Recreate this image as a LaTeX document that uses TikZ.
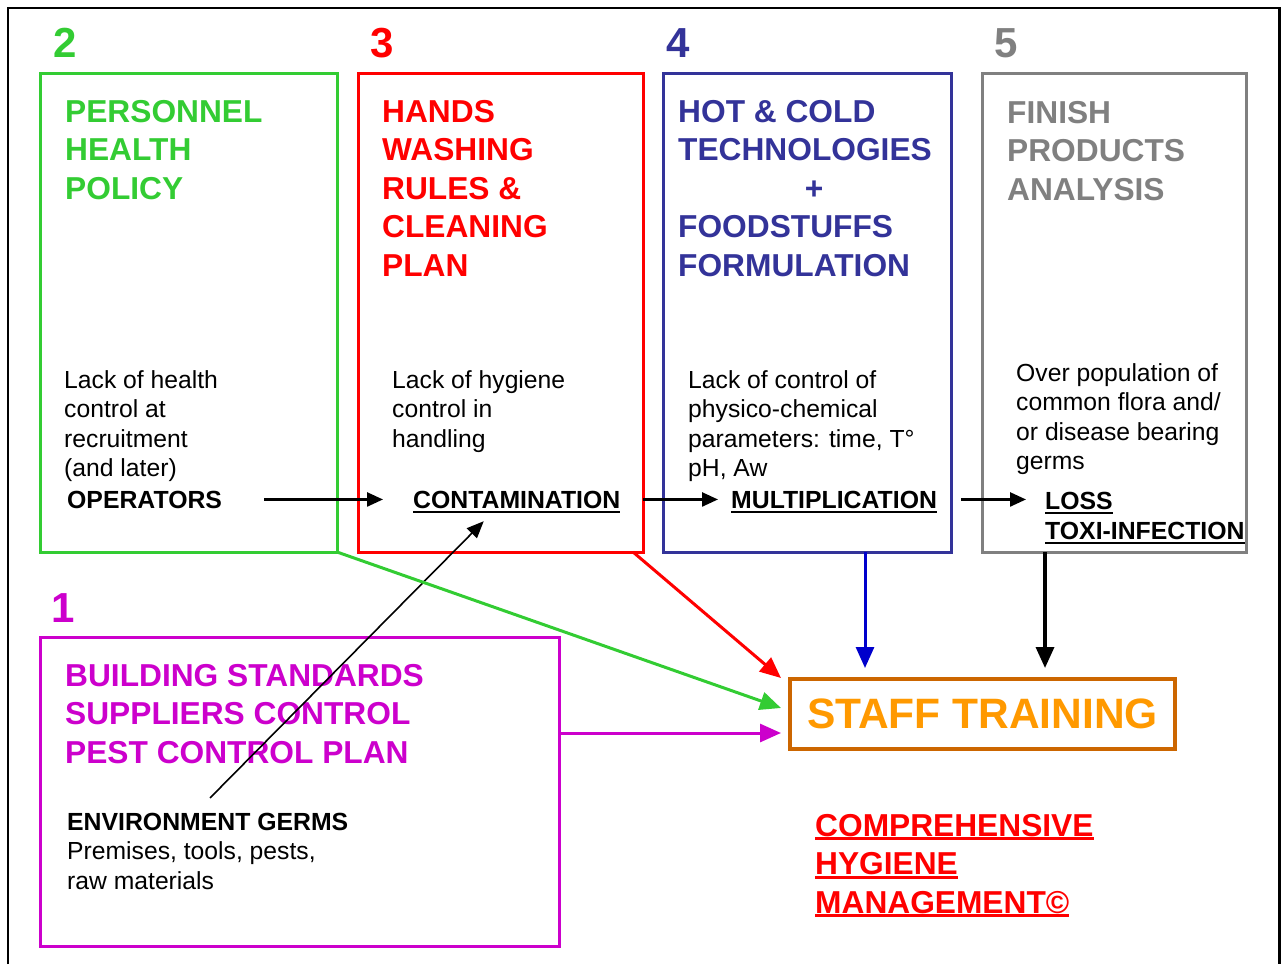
\documentclass[tikz,border=0pt]{standalone}
\usepackage{fontspec}
\setmainfont{Liberation Sans}
\usetikzlibrary{arrows.meta}

\definecolor{cgreen}{RGB}{51,204,51}
\definecolor{cred}{RGB}{255,0,0}
\definecolor{cnavy}{RGB}{51,51,153}
\definecolor{cblue}{RGB}{0,0,204}
\definecolor{cgray}{RGB}{128,128,128}
\definecolor{cmag}{RGB}{204,0,204}
\definecolor{corange}{RGB}{255,153,0}
\definecolor{cbrown}{RGB}{204,102,0}

% underline: #1 = drop below baseline, #2 = rule thickness, #3 = text
\newcommand\ulbar[3]{\setbox0\hbox{#3}\rlap{\rule[-#1pt]{\wd0}{#2pt}}\box0}

\begin{document}
\begin{tikzpicture}[x=1pt,y=-1pt,
  box/.style={draw, line width=3pt, rectangle, inner sep=0pt, outer sep=0pt, anchor=north west},
  num/.style={font=\fontsize{42}{48}\selectfont\bfseries, anchor=base west, inner sep=0pt},
  head/.style={font=\fontsize{31.7}{38.5}\selectfont\bfseries, align=left, anchor=base west, inner sep=0pt},
  desc/.style={font=\fontsize{24.7}{29.5}\selectfont, align=left, anchor=base west, inner sep=0pt},
  key/.style={font=\fontsize{24.8}{29.5}\selectfont\bfseries, align=left, anchor=base west, inner sep=0pt},
  flow/.style={line width=2.5pt, -{Triangle[length=16pt,width=14pt]}},
  feed/.style={line width=3pt, -{Triangle[length=21pt,width=18pt]}}
]
\useasboundingbox (0,0) rectangle (1282,964);

% page frame
\draw[line width=2.5pt] (8,964) -- (8,8) -- (1279.5,8) -- (1279.5,964);

% the five control areas
\node[box, draw=cgreen, minimum width=297, minimum height=479] (box2) at (40,73) {};
\node[box, draw=cred,   minimum width=285, minimum height=479] (box3) at (358,73) {};
\node[box, draw=cnavy,  minimum width=288, minimum height=479] (box4) at (663,73) {};
\node[box, draw=cgray,  minimum width=264, minimum height=479] (box5) at (982,73) {};
\node[box, draw=cmag,   minimum width=519, minimum height=309] (box1) at (40,637) {};

% numbers
\node[num, text=cgreen] (n2) at (53,57) {2};
\node[num, text=cred]   (n3) at (370,57) {3};
\node[num, text=cnavy]  (n4) at (666,57) {4};
\node[num, text=cgray]  (n5) at (994,57) {5};
\node[num, text=cmag]   (n1) at (51,622) {1};

% headings (positioned by the baseline of their last line)
\node[head, text=cgreen] (h2) at (65,199) {PERSONNEL\\HEALTH\\POLICY};
\node[head, text=cred]   (h3) at (382,276) {HANDS\\WASHING\\RULES \&\\CLEANING\\PLAN};
\node[head, text=cnavy]  (h4) at (678,276) {HOT \& COLD\\TECHNOLOGIES\\\makebox[272pt][c]{+}\\FOODSTUFFS\\FORMULATION};
\node[head, text=cgray]  (h5) at (1007,200) {FINISH\\PRODUCTS\\ANALYSIS};
\node[head, text=cmag]   (h1) at (65,763) {BUILDING STANDARDS\\SUPPLIERS CONTROL\\PEST CONTROL PLAN};

% hazard descriptions
\node[desc] (d2) at (64,476.5) {Lack of health\\control at\\recruitment\\(and later)};
\node[desc] (d3) at (392,447) {Lack of hygiene\\control in\\handling};
\node[desc] (d4) at (688,476.5) {Lack of control of\\physico-chemical\\parameters: time, T°\\pH, Aw};
\node[desc] (d5) at (1016,469.5) {Over population of\\common flora and/\\or disease bearing\\germs};

% chain of hazards
\node[key] (ops)  at (67,508) {OPERATORS};
\node[key] (cont) at (413,508) {\ulbar{5}{2.5}{CONTAMINATION}};
\node[key] (mult) at (731,508) {\ulbar{5}{2.5}{MULTIPLICATION}};
\node[key] (loss) at (1045,509) {\ulbar{5}{2.5}{LOSS}};
\node[key] (toxi) at (1045,539) {\ulbar{5}{2.5}{TOXI-INFECTION}};
\node[desc] (env) at (67,889) {\fontsize{24.8}{29.5}\selectfont\textbf{ENVIRONMENT GERMS}\\Premises, tools, pests,\\raw materials};

% training and management
\node[draw=cbrown, line width=4pt, rectangle, inner sep=0pt, outer sep=0pt, anchor=north west,
      minimum width=385, minimum height=70, text=corange,
      font=\fontsize{42.5}{48}\selectfont\bfseries] (staff) at (790,679) {STAFF TRAINING};
\node[head, text=cred] (chm) at (815,913)
  {\ulbar{4}{3}{COMPREHENSIVE}\\\ulbar{4}{3}{HYGIENE}\\\ulbar{4}{3}{MANAGEMENT©}};

% hazard chain arrows
\draw[flow] ([xshift=42]ops.east) -- ([xshift=-30]cont.west |- ops.east);
\draw[flow] ([xshift=22]cont.east |- ops.east) -- ([xshift=-13]mult.west |- ops.east);
\draw[flow] ([xshift=24]mult.east |- ops.east) -- ([xshift=-19]loss.west |- ops.east);
\draw[line width=1.6pt, -{Triangle[length=17pt,width=14pt]}]
  ([xshift=143,yshift=14.5]env.north west) -- ([xshift=-33,yshift=-8]cont.south);

% feeds into staff training
\draw[feed, cgreen] (box2.south east) -- ([xshift=-9,yshift=6]staff.west);
\draw[feed, cred]   ([xshift=-10]box3.south east) -- ([xshift=-9,yshift=1]staff.north west);
\draw[feed, cmag]   ([yshift=58.5]box1.east) -- ([xshift=-9,yshift=-19]staff.west);
\draw[feed, cblue, shorten >=11pt] ([xshift=58]box4.south) -- ([xshift=58]box4.south |- staff.north);
\draw[feed, black, line width=3.5pt, shorten >=11pt] ([xshift=-69]box5.south) -- ([xshift=-69]box5.south |- staff.north);
\end{tikzpicture}
\end{document}
